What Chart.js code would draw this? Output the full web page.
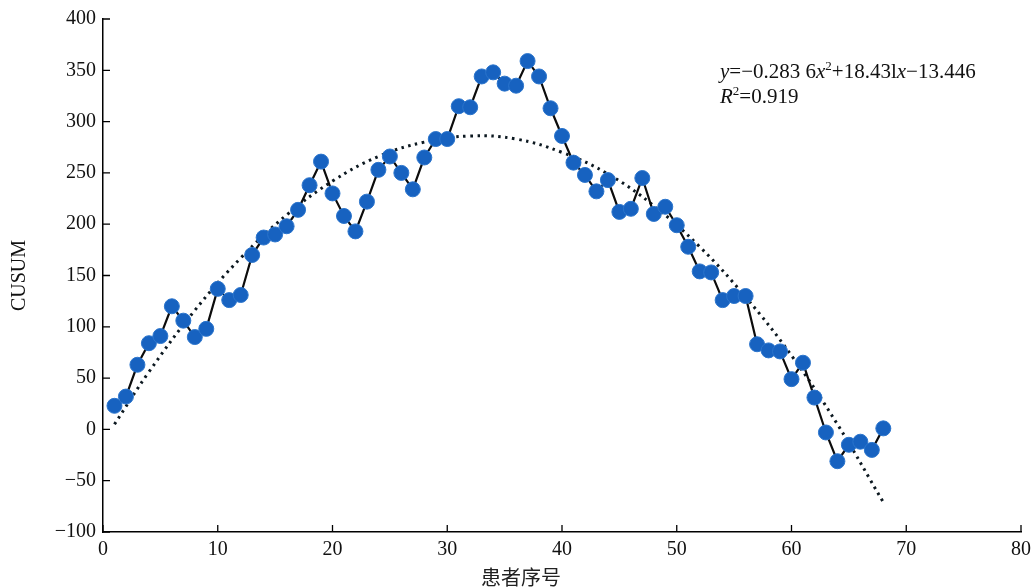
<!DOCTYPE html>
<html>
<head>
<meta charset="utf-8">
<script src="https://cdn.jsdelivr.net/npm/chart.js@4.4.0/dist/chart.umd.min.js"></script>
<style>
html,body{margin:0;padding:0;background:#fff;}
#wrap{width:1031px;height:588px;position:relative;}
</style>
</head>
<body>
<div id="wrap"><canvas id="c" width="1031" height="588"></canvas></div>
<script>
const patientIds = [1,2,3,4,5,6,7,8,9,10,11,12,13,14,15,16,17,18,19,20,21,22,23,24,25,26,27,28,29,30,31,32,33,34,35,36,37,38,39,40,41,42,43,44,45,46,47,48,49,50,51,52,53,54,55,56,57,58,59,60,61,62,63,64,65,66,67,68];
const cusumValues = [23,32,63,84,91,120,106,90,98,137,126,131,170,187,190,198,214,238,261,230,208,193,222,253,266,250,234,265,283,283,315,314,344,348,337,335,359,344,313,286,260,248,232,243,212,215,245,210,217,199,178,154,153,126,130,130,83,77,76,49,65,31,-3,-31,-15,-12,-20,1];
const trendX = [1,4,8,12,16,20,24,28,32,36,40,44,48,52,56,60,64,68];
const trendValues = [5,56,116,167,209,242,266,280,286,283,270,249,218,178,129,72,5,-71];
const xTicks = [0,10,20,30,40,50,60,70,80];
const yTicks = [-100,-50,0,50,100,150,200,250,300,350,400];
const xTitle = '患者序号';
const yTitle = 'CUSUM';

const serif = '"Liberation Serif","DejaVu Serif",serif';

const extras = {
  id:'extras',
  afterDraw(chart){
    const ctx = chart.ctx;
    const xs = chart.scales.x, ys = chart.scales.y;
    const a = chart.chartArea;
    ctx.save();
    ctx.strokeStyle = '#000';
    ctx.lineWidth = 1.3;
    ctx.beginPath();
    yTicks.forEach(v=>{const p=ys.getPixelForValue(v);ctx.moveTo(a.left,p);ctx.lineTo(a.left+7,p);});
    xTicks.forEach(v=>{const p=xs.getPixelForValue(v);ctx.moveTo(p,a.bottom);ctx.lineTo(p,a.bottom-7);});
    ctx.stroke();
    // equation
    ctx.fillStyle = '#111';
    ctx.textBaseline = 'alphabetic';
    ctx.textAlign = 'left';
    const drawRich = (parts, x, y) => {
      parts.forEach(p=>{
        ctx.font = (p.i?'italic ':'') + (p.s?'13px ':'21px ') + serif;
        ctx.fillText(p.t, x, y - (p.s?8:0));
        x += ctx.measureText(p.t).width;
      });
    };
    drawRich([{t:'y',i:1},{t:'=−0.283 6'},{t:'x',i:1},{t:'2',s:1},{t:'+18.43l'},{t:'x',i:1},{t:'−13.446'}], 720, 78);
    drawRich([{t:'R',i:1},{t:'2',s:1},{t:'=0.919'}], 720, 103);
    // x title
    ctx.font = '20px "Noto Sans CJK SC", sans-serif';
    ctx.textAlign = 'center';
    ctx.fillStyle = '#222';
    ctx.fillText(xTitle, 521, 585);
    ctx.restore();
  }
};

new Chart(document.getElementById('c'), {
  type:'scatter',
  data:{
    datasets:[
      {
        label:'trend',
        data: trendX.map((x,i)=>({x:x,y:trendValues[i]})),
        showLine:true,
        borderColor:'#0c1820',
        borderWidth:3,
        borderDash:[2.5,4.5],
        tension:0.4,
        pointRadius:0,
        fill:false,
        order:2
      },
      {
        label:'CUSUM',
        data: patientIds.map((x,i)=>({x:x,y:cusumValues[i]})),
        showLine:true,
        borderColor:'#0c0c0c',
        borderWidth:2.2,
        tension:0,
        pointRadius:7.5,
        pointBackgroundColor:'#1762c0',
        pointBorderColor:'#2a74cc',
        pointBorderWidth:1,
        order:1
      }
    ]
  },
  options:{
    responsive:false,
    animation:false,
    devicePixelRatio:1,
    layout:{padding:{top:18,right:0,left:8,bottom:0}},
    plugins:{legend:{display:false},tooltip:{enabled:false}},
    scales:{
      x:{
        type:'linear',min:0,max:80,
        afterBuildTicks(s){s.ticks = xTicks.map(v=>({value:v}));},
        afterFit(s){s.height = 56; s.paddingRight = 10; s.paddingLeft = 0;},
        grid:{display:false,drawTicks:false},
        border:{display:true,color:'#000',width:1.5},
        ticks:{color:'#111',font:{family:serif,size:20},padding:6,maxRotation:0,autoSkip:false,callback:v=>v<0?'−'+Math.abs(v):v}
      },
      y:{
        type:'linear',min:-100,max:400,
        afterBuildTicks(s){s.ticks = yTicks.map(v=>({value:v}));},
        afterFit(s){s.width = 95;},
        grid:{display:false,drawTicks:false},
        border:{display:true,color:'#000',width:1.5},
        title:{display:true,text:yTitle,color:'#111',font:{family:serif,size:20},padding:{top:0,bottom:10}},
        ticks:{color:'#111',font:{family:serif,size:20},padding:7,autoSkip:false,callback:v=>v<0?'−'+Math.abs(v):v}
      }
    }
  },
  plugins:[extras]
});
</script>
</body>
</html>
